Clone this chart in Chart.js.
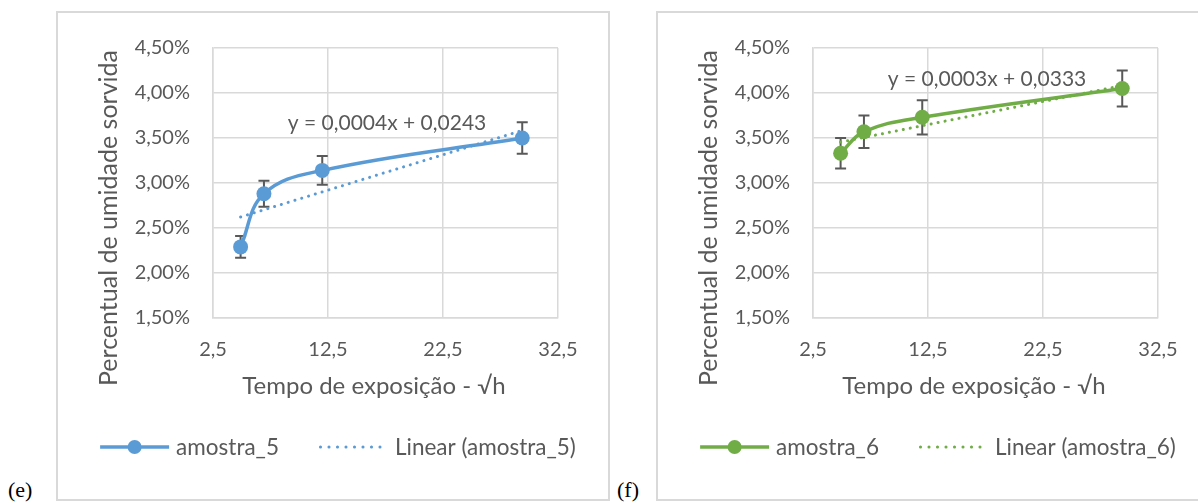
<!DOCTYPE html>
<html lang="pt">
<head>
<meta charset="utf-8">
<title>Umidade sorvida - amostras 5 e 6</title>
<script src="https://cdn.jsdelivr.net/npm/chart.js@4.4.1/dist/chart.umd.min.js"></script>
<style>
    html, body { margin: 0; padding: 0; background: #fff; overflow: hidden; width: 1198px; height: 503px; }
    .grafico { position: absolute; top: 11px; width: 550px; height: 486px; border: 2px solid #d9d9d9; background: #fff; }
    .letra { position: absolute; top: 479px; font-family: "Liberation Serif", "Times New Roman", serif; font-size: 22px; line-height: 1; color: #000; }
</style>
</head>
<body>
<div class="grafico" style="left: 56px;"><canvas id="GraficoAmostra5" width="550" height="486"></canvas></div>
<span class="letra" style="left: 8px;">(e)</span>
<div class="grafico" style="left: 656px;"><canvas id="GraficoAmostra6" width="550" height="486"></canvas></div>
<span class="letra" style="left: 617px;">(f)</span>

<script>
// Tempo de exposição em raiz de horas (1, 2, 6 e 36 dias)
var tempoRaiz = [4.9, 6.93, 12, 29.39];

// Umidade sorvida (fração) e desvio de cada amostra
var amostra5 = [0.0229, 0.0288, 0.0314, 0.0350];
var erroAmostra5 = [0.0012, 0.00145, 0.0016, 0.00175];
var amostra6 = [0.0333, 0.0357, 0.0373, 0.0405];
var erroAmostra6 = [0.0017, 0.0018, 0.0019, 0.0020];

// Eixos
var limitesX = [2.5, 32.5];
var passoX = 10;
var limitesY = [0.015, 0.045];
var passoY = 0.005;

var tituloX = "Tempo de exposição - √h";
var tituloY = "Percentual de umidade sorvida";

var corTexto = "#595959";
var corGrade = "#d9d9d9";
var fonte = "Lato, 'Open Sans', sans-serif";

Chart.defaults.font.family = fonte;
Chart.defaults.color = corTexto;

document.addEventListener("DOMContentLoaded", function () {
    CriarGrafico("GraficoAmostra5", "amostra_5", amostra5, erroAmostra5, "#5b9bd5");
    CriarGrafico("GraficoAmostra6", "amostra_6", amostra6, erroAmostra6, "#70ad47");
});


function RegressaoLinear(x, y) {
    var n = x.length, sx = 0, sy = 0, sxx = 0, sxy = 0;
    for (var i = 0; i < n; ++i) {
        sx += x[i];
        sy += y[i];
        sxx += x[i] * x[i];
        sxy += x[i] * y[i];
    }
    var a = (n * sxy - sx * sy) / (n * sxx - sx * sx);
    var b = (sy - a * sx) / n;
    return { a: a, b: b };
}; // FIM RegressaoLinear

function Virgula(valor, casas) {
    return valor.toFixed(casas).replace(".", ",");
}

function CriarGrafico(idCanvas, nome, valores, erros, cor) {

    var reta = RegressaoLinear(tempoRaiz, valores);
    var xIni = tempoRaiz[0];
    var xFim = tempoRaiz[tempoRaiz.length - 1];
    var equacao = "y = " + Virgula(reta.a, 4) + "x + " + Virgula(reta.b, 4);

    var pontos = [];
    for (var i = 0; i < tempoRaiz.length; ++i) {
        pontos.push({ x: tempoRaiz[i], y: valores[i] });
    }

    var decoracao = {
        id: "decoracao",
        beforeDatasetsDraw: function (chart) {
            // barras de erro atrás da curva
            var ctx = chart.ctx;
            var sx = chart.scales.x, sy = chart.scales.y;
            ctx.save();
            ctx.strokeStyle = corTexto;
            ctx.lineWidth = 2;
            for (var i = 0; i < valores.length; ++i) {
                var px = sx.getPixelForValue(tempoRaiz[i]);
                var topo = sy.getPixelForValue(valores[i] + erros[i]);
                var base = sy.getPixelForValue(valores[i] - erros[i]);
                ctx.beginPath();
                ctx.moveTo(px, topo);
                ctx.lineTo(px, base);
                ctx.moveTo(px - 5.5, topo);
                ctx.lineTo(px + 5.5, topo);
                ctx.moveTo(px - 5.5, base);
                ctx.lineTo(px + 5.5, base);
                ctx.stroke();
            }
            ctx.restore();
        },
        afterDraw: function (chart) {
            var ctx = chart.ctx;
            var sx = chart.scales.x, sy = chart.scales.y;
            ctx.save();
            ctx.fillStyle = corTexto;

            // títulos dos eixos
            ctx.textAlign = "center";
            ctx.textBaseline = "alphabetic";
            ctx.font = "24px " + fonte;
            ctx.fillText(tituloX, 316, 381);
            ctx.save();
            ctx.translate(59, 205);
            ctx.rotate(-Math.PI / 2);
            ctx.font = "25px " + fonte;
            ctx.fillText(tituloY, 0, 0);
            ctx.restore();

            // equação da linha de tendência
            ctx.font = "21px " + fonte;
            ctx.textAlign = "right";
            ctx.fillText(equacao,
                sx.getPixelForValue(xFim) - 36,
                sy.getPixelForValue(reta.a * xFim + reta.b));

            // legenda
            ctx.font = "22.5px " + fonte;
            var itens = [
                { texto: nome, tipo: "serie" },
                { texto: "Linear (" + nome + ")", tipo: "tendencia" }
            ];
            var larguraLinha = 69, espacoTexto = 7, espacoItens = 40;
            var total = 0;
            itens.forEach(function (item, k) {
                item.largura = ctx.measureText(item.texto).width;
                total += larguraLinha + espacoTexto + item.largura + (k > 0 ? espacoItens : 0);
            });
            var x = chart.width / 2 + 5 - total / 2;
            var y = 434;
            ctx.textAlign = "left";
            ctx.textBaseline = "middle";
            itens.forEach(function (item) {
                ctx.save();
                ctx.strokeStyle = cor;
                ctx.beginPath();
                if (item.tipo == "serie") {
                    ctx.lineWidth = 3.5;
                    ctx.moveTo(x, y);
                    ctx.lineTo(x + larguraLinha, y);
                    ctx.stroke();
                    ctx.fillStyle = cor;
                    ctx.beginPath();
                    ctx.arc(x + larguraLinha / 2, y, 7, 0, 2 * Math.PI);
                    ctx.fill();
                } else {
                    ctx.lineWidth = 3;
                    ctx.lineCap = "round";
                    ctx.setLineDash([0.1, 8.4]);
                    ctx.moveTo(x + 1.5, y);
                    ctx.lineTo(x + larguraLinha, y);
                    ctx.stroke();
                }
                ctx.restore();
                ctx.fillText(item.texto, x + larguraLinha + espacoTexto, y + 1);
                x += larguraLinha + espacoTexto + item.largura + espacoItens;
            });
            ctx.restore();
        }
    };

    const config = {
        type: "scatter",
        data: {
            datasets: [{
                label: nome,
                data: pontos,
                showLine: true,
                borderColor: cor,
                backgroundColor: cor,
                borderWidth: 3.5,
                tension: 0.4,
                pointRadius: 7.5,
                pointBorderWidth: 0,
                order: 2
            }, {
                label: "Linear (" + nome + ")",
                data: [
                    { x: xIni, y: reta.a * xIni + reta.b },
                    { x: xFim, y: reta.a * xFim + reta.b }
                ],
                showLine: true,
                borderColor: cor,
                borderWidth: 3,
                borderDash: [0.1, 7],
                borderCapStyle: "round",
                pointRadius: 0,
                order: 1
            }]
        },
        options: {
            responsive: false,
            animation: false,
            layout: {
                padding: { top: 29, right: 50, left: 0, bottom: 0 }
            },
            plugins: {
                legend: { display: false },
                tooltip: { enabled: false }
            },
            scales: {
                x: {
                    type: "linear",
                    min: limitesX[0],
                    max: limitesX[1],
                    afterFit: function (scale) { scale.height = 181; },
                    ticks: {
                        stepSize: passoX,
                        padding: 20,
                        font: { size: 20 },
                        color: corTexto,
                        callback: function (v) { return Virgula(v, 1); }
                    },
                    grid: { color: corGrade, lineWidth: 1.5, drawTicks: false },
                    border: { color: corGrade, width: 1.5 }
                },
                y: {
                    min: limitesY[0],
                    max: limitesY[1],
                    afterFit: function (scale) { scale.width = 155; },
                    ticks: {
                        stepSize: passoY,
                        padding: 23,
                        font: { size: 20 },
                        color: corTexto,
                        callback: function (v) { return Virgula(v * 100, 2) + "%"; }
                    },
                    grid: { color: corGrade, lineWidth: 1.5, drawTicks: false },
                    border: { color: corGrade, width: 1.5 }
                }
            }
        },
        plugins: [decoracao]
    };

    return new Chart(document.getElementById(idCanvas), config);

}; // FIM CriarGrafico
</script>
</body>
</html>
